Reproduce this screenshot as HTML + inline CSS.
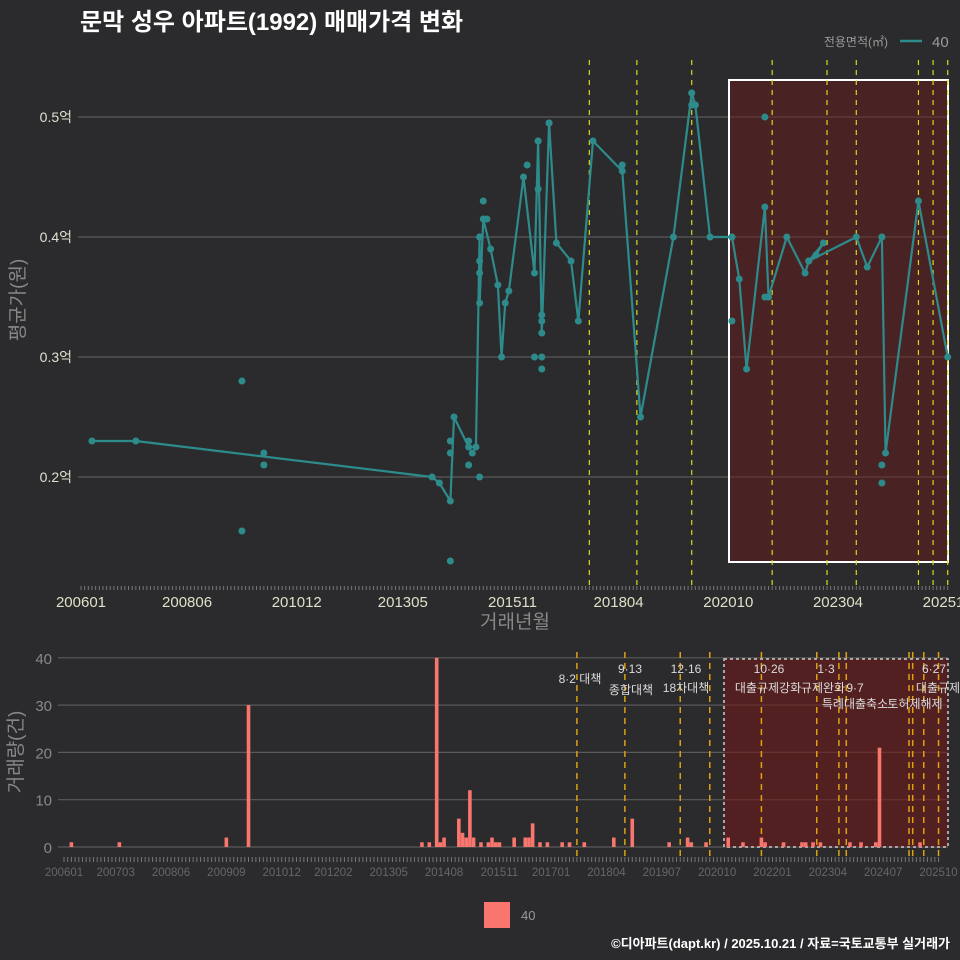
<!DOCTYPE html>
<html><head><meta charset="utf-8">
<style>
html,body{margin:0;padding:0;background:#2b2b2d;}
svg{display:block;font-family:"Liberation Sans","Noto Sans CJK KR",sans-serif;}
</style></head>
<body>
<svg id="chart" width="960" height="960" viewBox="0 0 960 960">
<rect x="0" y="0" width="960" height="960" fill="#2b2b2d"/>
<text x="80" y="30" fill="#ffffff" font-size="24" font-weight="bold">문막 성우 아파트(1992) 매매가격 변화</text>
<text x="888" y="46" fill="#9a9a9a" font-size="12" text-anchor="end">전용면적(㎡)</text>
<line x1="900" y1="41" x2="922" y2="41" stroke="#2e8b8b" stroke-width="2.5"/>
<text x="932" y="47" fill="#9a9a9a" font-size="15">40</text>
<text transform="translate(24,300) rotate(-90)" fill="#888" font-size="19" text-anchor="middle">평균가(원)</text>
<text x="515" y="628" fill="#888" font-size="19" text-anchor="middle">거래년월</text>
<text transform="translate(22,752) rotate(-90)" fill="#888" font-size="19" text-anchor="middle">거래량(건)</text>
<rect x="484" y="902" width="26" height="26" fill="#f8766d"/>
<text x="521" y="920" fill="#999" font-size="13">40</text>
<text x="950" y="948" fill="#ffffff" font-size="13" font-weight="bold" text-anchor="end">©디아파트(dapt.kr) / 2025.10.21 / 자료=국토교통부 실거래가</text>
<g id="topPanel"></g>
<g id="botPanel"></g>
</svg>
<script>
// ---- price chart data ----
const lineMonths = [200604,200704,201401,201403,201406,201407,201411,201501,201502,201502,201503,201505,201507,201508,201509,201510,201602,201605,201606,201607,201609,201611,201703,201705,201709,201805,201810,201907,201912,202001,202005,202011,202101,202103,202108,202109,202202,202207,202208,202210,202212,202208,202309,202312,202404,202405,202502,202510];
const lineValues = [0.23,0.23,0.2,0.195,0.18,0.25,0.225,0.225,0.40,0.345,0.415,0.39,0.36,0.30,0.345,0.355,0.45,0.37,0.48,0.32,0.495,0.395,0.38,0.33,0.48,0.455,0.25,0.40,0.52,0.51,0.40,0.40,0.365,0.29,0.425,0.35,0.40,0.37,0.38,0.385,0.395,0.38,0.40,0.375,0.40,0.22,0.43,0.30];
const dotMonths = [200909,200909,201003,201003,201406,201406,201406,201411,201411,201412,201502,201502,201502,201502,201503,201504,201603,201606,201607,201607,201607,201607,201605,201606,201609,201805,201912,201912,202011,202011,202108,202108,202109,202404,202404,202404];
const dotValues = [0.28,0.155,0.22,0.21,0.23,0.22,0.13,0.21,0.23,0.22,0.40,0.37,0.38,0.20,0.43,0.415,0.46,0.44,0.335,0.33,0.29,0.30,0.30,0.48,0.495,0.46,0.52,0.51,0.40,0.33,0.50,0.35,0.35,0.21,0.195,0.40];
const topTickLabels = ["200601","200806","201012","201305","201511","201804","202010","202304","202510"];
const topYTicks = [0.2,0.3,0.4,0.5];
const topPolicyMonths = [201708,201809,201912,202110,202301,202309,202502,202506,202510];
// ---- volume chart data ----
const barMonths = [200603,200704,200909,201003,201402,201404,201406,201407,201408,201412,201501,201502,201503,201504,201506,201508,201509,201510,201511,201603,201606,201607,201608,201610,201612,201704,201706,201710,201806,201811,201909,202002,202003,202007,202101,202105,202110,202111,202204,202209,202210,202212,202302,202310,202401,202405,202406,202505];
const barValues = [1,1,2,30,1,1,40,1,2,6,3,2,12,2,1,1,2,1,1,2,2,2,5,1,1,1,1,1,2,6,1,2,1,1,2,1,2,1,1,1,1,1,1,1,1,1,21,1];
const botTickLabels = ["200601","200703","200806","200909","201012","201202","201305","201408","201511","201701","201804","201907","202010","202201","202304","202407","202510"];
const botYTicks = [0,10,20,30,40];
const botPolicyMonths = [201708,201809,201912,202008,202110,202301,202307,202309,202502,202503,202506,202510];

(function(){
const NS="http://www.w3.org/2000/svg";
function mk(parent,tag,attrs){const e=document.createElementNS(NS,tag);for(const k in attrs)e.setAttribute(k,attrs[k]);parent.appendChild(e);return e;}
function mIdx(ym){const y=Math.floor(ym/100),m=ym%100;return (y-2006)*12+(m-1);}
const xT=ym=>81+mIdx(ym)*3.657;
const yT=v=>477-(v-0.2)*1200;
const xB=ym=>64+mIdx(ym)*3.69;
const yB=v=>847-v*4.73;

const topG=document.getElementById('topPanel');
topYTicks.forEach(v=>{
  const l=mk(topG,'line',{x1:78,x2:948,y1:yT(v),y2:yT(v),stroke:'#5a5a5a','stroke-width':1.2});
  
  
  const t=mk(topG,'text',{x:72,y:yT(v)+5,fill:'#e0e0d0','font-size':14,'text-anchor':'end'});
  t.textContent=v.toFixed(1)+'억';
  
  
});
const sr=mk(topG,'rect',{x:729,y:80,width:219,height:482,fill:'rgba(110,25,25,0.45)',stroke:'#ffffff','stroke-width':2});


for(let i=0;i<=237;i++){const x=81+i*3.657;const t=mk(topG,'line',{x1:x,x2:x,y1:586,y2:590,stroke:'#777','stroke-width':1});
  
  }
topTickLabels.forEach(s=>{const t=mk(topG,'text',{x:xT(+s),y:607,fill:'#e0e0c8','font-size':15,'text-anchor':'middle'});t.textContent=s;
  
  });
topPolicyMonths.forEach(m=>{const l=mk(topG,'line',{x1:xT(m),x2:xT(m),y1:60,y2:590,stroke:'#d8d820','stroke-width':1.2,'stroke-dasharray':'5,5'});
  
  });
const pts=lineMonths.map((m,i)=>xT(m)+','+yT(lineValues[i])).join(' ');
const pl=mk(topG,'polyline',{points:pts,fill:'none',stroke:'#2e8b8b','stroke-width':2.2,'stroke-linejoin':'round'});


lineMonths.forEach((m,i)=>{const c=mk(topG,'circle',{cx:xT(m),cy:yT(lineValues[i]),r:3.5,fill:'#2e8b8b'});
  
  });
dotMonths.forEach((m,i)=>{const c=mk(topG,'circle',{cx:xT(m),cy:yT(dotValues[i]),r:3.5,fill:'#2e8b8b'});
  
  });

const botG=document.getElementById('botPanel');
botYTicks.forEach(v=>{
  const l=mk(botG,'line',{x1:58,x2:948,y1:yB(v),y2:yB(v),stroke:'#5a5a5a','stroke-width':1.2});
  
  
  const t=mk(botG,'text',{x:52,y:yB(v)+6,fill:'#888','font-size':15,'text-anchor':'end'});
  t.textContent=v;
  
  
});
const br=mk(botG,'rect',{x:724,y:659,width:224,height:188,fill:'rgba(110,25,25,0.6)',stroke:'#cccccc','stroke-width':1.5,'stroke-dasharray':'3,3'});


for(let i=0;i<=237;i++){const x=64+i*3.69;const t=mk(botG,'line',{x1:x,x2:x,y1:857,y2:862,stroke:'#777','stroke-width':1});
  
  }
botTickLabels.forEach(s=>{const t=mk(botG,'text',{x:xB(+s),y:876,fill:'#666','font-size':11.5,'text-anchor':'middle'});t.textContent=s;
  
  });
botPolicyMonths.forEach(m=>{const l=mk(botG,'line',{x1:xB(m),x2:xB(m),y1:652,y2:860,stroke:'#e0a010','stroke-width':1.5,'stroke-dasharray':'6,5'});
  
  });
barMonths.forEach((m,i)=>{const h=barValues[i]*4.73;const r=mk(botG,'rect',{x:xB(m)-1.8,y:847-h,width:3.6,height:h,fill:'#f8766d'});
  
  });
const ann=[[580,683,'8·2 대책'],[630,673,'9·13'],[631,694,'종합대책'],[686,673,'12·16'],[686,692,'18차대책'],[769,673,'10·26'],[768,692,'대출규제강화'],[826,673,'1·3'],[823,692,'규제완화'],[855,692,'9·7'],[855,708,'특례대출축소'],[915,708,'토허제해제'],[934,673,'6·27'],[938,692,'대출규제']];
ann.forEach(a=>{const t=mk(botG,'text',{x:a[0],y:a[1],fill:'#dcdcdc','font-size':12,'text-anchor':'middle'});t.textContent=a[2];
  
  });
})();
</script>
</body></html>
